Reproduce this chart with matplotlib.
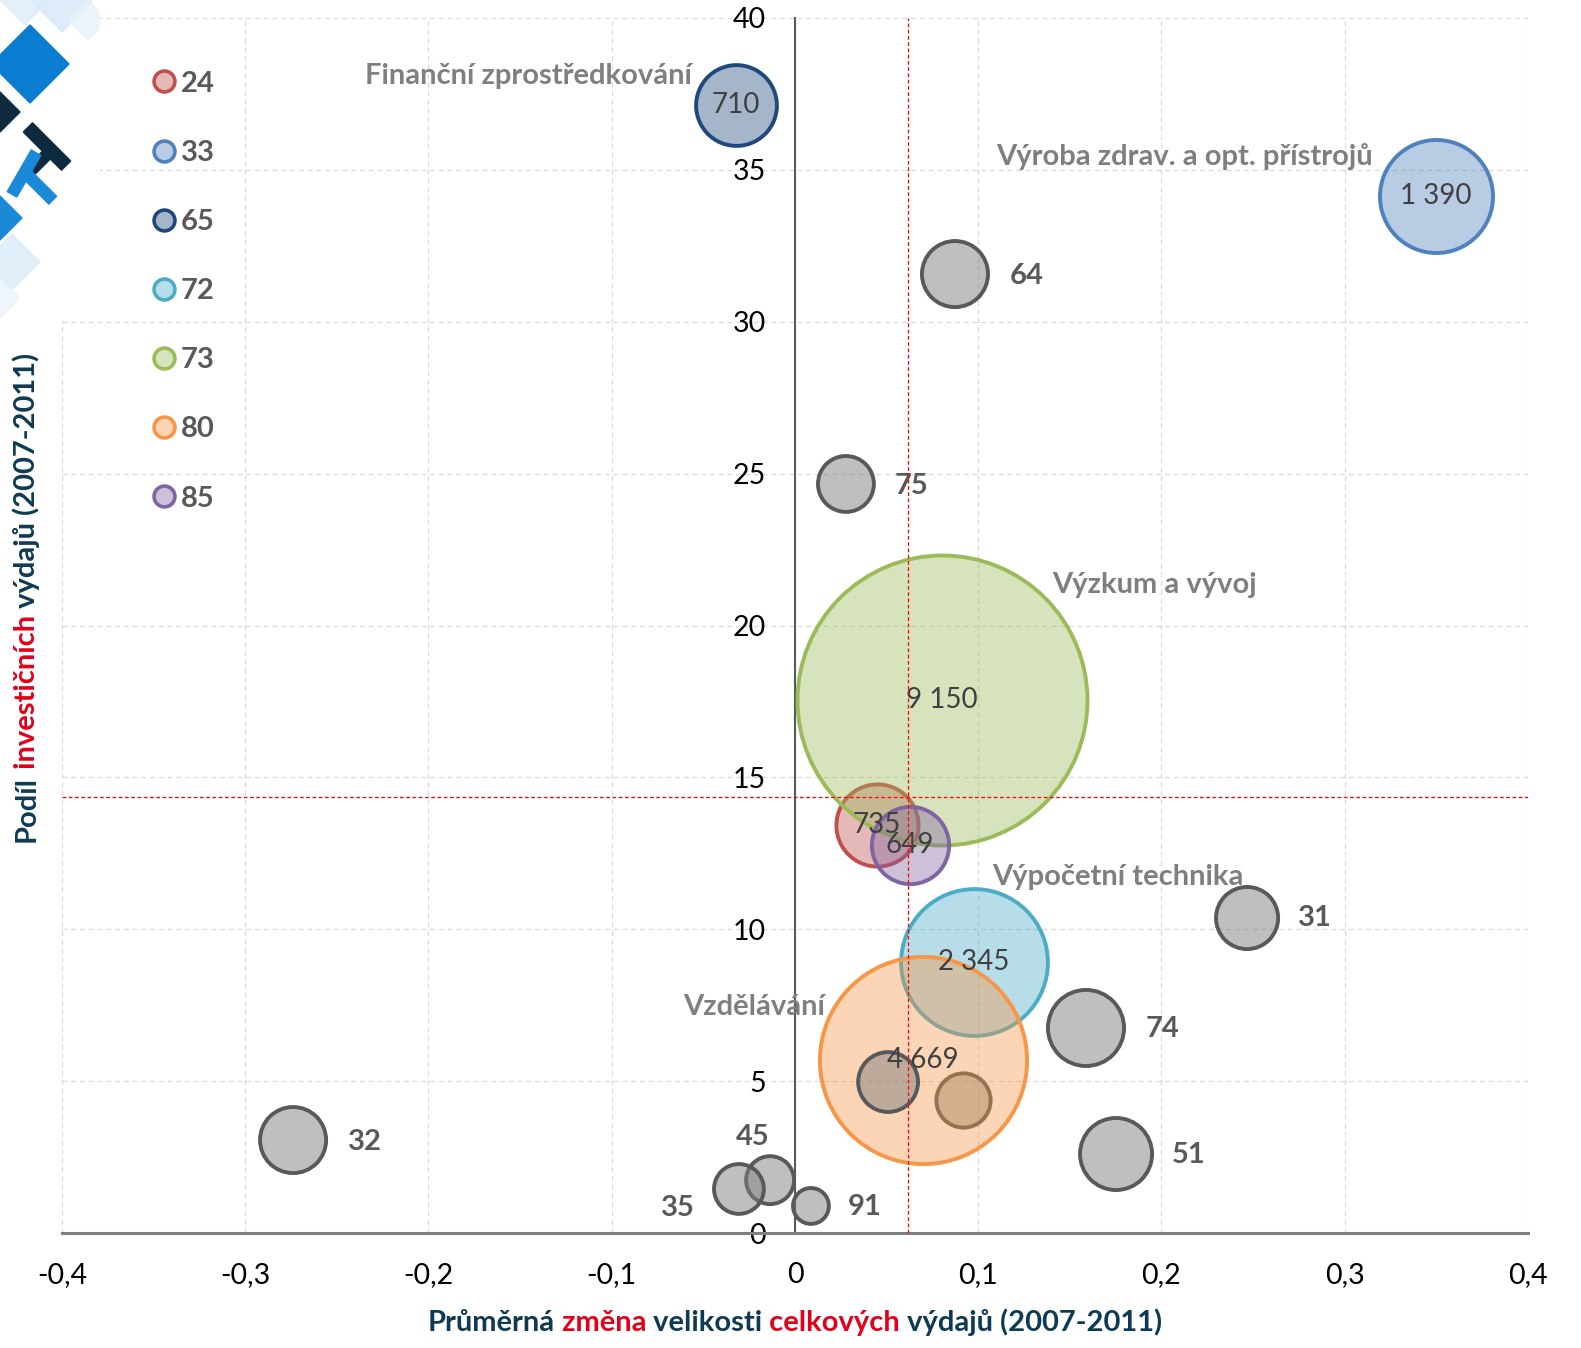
import numpy as np
import matplotlib
matplotlib.use("Agg")
import matplotlib.pyplot as plt
from matplotlib.lines import Line2D
from matplotlib.patches import RegularPolygon, Rectangle
from matplotlib.colors import to_rgba

plt.rcParams["font.family"] = ["Lato", "DejaVu Sans"]

W, H = 1581, 1348

# colored sectors: average change of total spend (x), share of investment spend in % (y), bubble size
col_codes = ["24", "73", "85", "72", "80", "33", "65"]
col_x = [0.0447, 0.0802, 0.0628, 0.0977, 0.0698, 0.3498, -0.0322]
col_y = [13.43, 17.55, 12.77, 8.92, 5.70, 34.14, 37.14]
col_size = [735, 9150, 649, 2345, 4669, 1390, 710]
col_labels = ["735", "9 150", "649", "2 345", "4 669", "1 390", "710"]
col_edge = ["#C0504D", "#9BBB59", "#8064A2", "#4BACC6", "#F79646", "#4F81BD", "#1F497D"]

# sector names
names = {"65": "Finanční zprostředkování", "33": "Výroba zdrav. a opt. přístrojů",
         "73": "Výzkum a vývoj", "72": "Výpočetní technika", "80": "Vzdělávání"}
# name offsets (px from bubble centre) and alignment
name_off = {"65": (-44, 29, "right"), "33": (-63, 39, "right"), "73": (110, 115, "left"),
            "72": (18, 85, "left"), "80": (-98, 53, "right")}

# other (grey) sectors
gray_codes = ["64", "75", "31", "74", "51", "32", "45", "35", "91", "", ""]
gray_x = [0.0873, 0.0278, 0.2467, 0.1588, 0.1752, -0.2739, -0.0136, -0.0306, 0.0087, 0.0508, 0.0918]
gray_y = [31.57, 24.66, 10.37, 6.75, 2.60, 3.06, 1.74, 1.45, 0.89, 4.97, 4.39]
gray_size = [475, 340, 420, 630, 565, 475, 250, 270, 140, 390, 320]
gray_top = [True] * 9 + [True, False]
gray_off = [(72, -2), (66, -2), (68, 0), (76, -1), (73, -1), (72, -2), (-17, 43), (-61, -19), (54, -1)]

# averages (red dashed lines)
mean_x = 0.0617
mean_y = 14.35

legend_codes = ["24", "33", "65", "72", "73", "80", "85"]

fig = plt.figure(figsize=(W / 100, H / 100), dpi=100)
fig.patch.set_facecolor("white")
ax = fig.add_axes([62 / W, 1 - 1233 / H, (1528 - 62) / W, (1233 - 18) / H])

ax.set_xlim(-0.4, 0.4)
ax.set_ylim(0, 40)
ax.set_xticks(np.arange(-0.4, 0.41, 0.1))
ax.set_xticklabels(["-0,4", "-0,3", "-0,2", "-0,1", "0", "0,1", "0,2", "0,3", "0,4"])
ax.set_yticks(np.arange(0, 41, 5))
ax.tick_params(length=0, labelsize=20.5, colors="black")
ax.tick_params(axis="y", pad=21)
ax.tick_params(axis="x", pad=21)
ax.grid(True, color="#D9D9D9", linestyle=(0, (4, 3)), linewidth=0.9)
ax.set_axisbelow(True)
for s in ["top", "right"]:
    ax.spines[s].set_visible(False)
ax.spines["left"].set_position(("data", 0))
ax.spines["left"].set_color("#595959")
ax.spines["left"].set_linewidth(1.5)
ax.spines["bottom"].set_color("#7F7F7F")
ax.spines["bottom"].set_linewidth(2.2)

# bubble area proportional to size; 9150 -> radius 145 px
k = (1.44 * 145) ** 2 / 9150
gx, gy, gs = np.array(gray_x), np.array(gray_y), np.array(gray_size)
top = np.array(gray_top)
gface = to_rgba("#808080", 0.5)
ax.scatter(gx[~top], gy[~top], s=gs[~top] * k, facecolor=gface, edgecolor="#595959",
           linewidth=2.8, zorder=2)
for i in range(len(col_codes)):
    ax.scatter([col_x[i]], [col_y[i]], s=col_size[i] * k, facecolor=to_rgba(col_edge[i], 0.4),
               edgecolor=col_edge[i], linewidth=2.8, zorder=3 + i * 0.1)
ax.scatter(gx[top], gy[top], s=gs[top] * k, facecolor=gface, edgecolor="#595959",
           linewidth=2.8, zorder=4)

for i, c in enumerate(col_codes):
    ax.text(col_x[i], col_y[i], col_labels[i], ha="center", va="center", fontsize=20,
            color="#404040", zorder=6)
    if c in names:
        dx, dy, ha = name_off[c]
        ax.annotate(names[c], (col_x[i], col_y[i]), xytext=(dx * 0.72, dy * 0.72),
                    textcoords="offset points", ha=ha, va="center", fontsize=21,
                    fontweight="bold", color="#7F7F7F", zorder=6)
for i, c in enumerate(gray_codes):
    if c:
        dx, dy = gray_off[i]
        ax.annotate(c, (gray_x[i], gray_y[i]), xytext=(dx * 0.72, dy * 0.72),
                    textcoords="offset points", ha="center", va="center", fontsize=21,
                    fontweight="bold", color="#595959", zorder=6)

ax.axvline(mean_x, color="#FF0000", linestyle=(0, (3, 2)), linewidth=0.9, zorder=7)
ax.axhline(mean_y, color="#FF0000", linestyle=(0, (3, 2)), linewidth=0.9, zorder=7)

# legend
handles = [Line2D([], [], linestyle="none", marker="o", markersize=15,
                  markerfacecolor=to_rgba(col_edge[col_codes.index(c)], 0.4),
                  markeredgecolor=col_edge[col_codes.index(c)], markeredgewidth=2.6, label=c)
           for c in legend_codes]
leg = ax.legend(handles=handles, loc="upper left", bbox_to_anchor=(133 / W, 1 - 56 / H),
                bbox_transform=fig.transFigure, frameon=False, fontsize=21,
                labelspacing=1.48, handletextpad=0.05, handlelength=1.1, borderpad=0)
for t in leg.get_texts():
    t.set_fontweight("bold")
    t.set_color("#595959")

# axis titles with coloured words
NAVY, RED = "#0E3B53", "#E2001A"
renderer = fig.canvas.get_renderer()


def coloured(parts, px, py, rotation=0):
    texts = [fig.text(0, 0, s, color=c, fontsize=21, fontweight="bold", va="baseline")
             for s, c in parts]
    widths = [t.get_window_extent(renderer).width for t in texts]
    if rotation == 0:
        pos = px - sum(widths) / 2
        for t, w in zip(texts, widths):
            t.set_position((pos / W, 1 - py / H))
            pos += w
    else:
        pos = (H - py) - sum(widths) / 2
        for t, w in zip(texts, widths):
            t.set_rotation(90)
            t.set_rotation_mode("anchor")
            t.set_position((px / W, pos / H))
            pos += w


coloured([("Průměrná", NAVY), (" změna", RED), (" velikosti", NAVY), (" celkových", RED),
          (" výdajů (2007-2011)", NAVY)], 795, 1331)
coloured([("Podíl", NAVY), (" investičních", RED), (" výdajů (2007-2011)", NAVY)], 35, 597,
         rotation=90)

# logo fragment in the top-left corner
lax = fig.add_axes([0, 1 - 320 / H, 100 / W, 320 / H])
lax.set_xlim(0, 100)
lax.set_ylim(320, 0)
lax.axis("off")
lax.add_patch(Rectangle((0, 0), 100, 320, color="white"))
for (cx, cy, r, col, a) in [(62, 2, 30, "#CFE5F6", 0.7), (25, 0, 25, "#DCEBF8", 0.8),
                            (88, 20, 20, "#E8F2FA", 0.8),
                            (30, 64, 39, "#0B7DD0", 1), (0, 112, 20, "#0E2A3E", 1),
                            (0, 218, 22, "#1A8AD8", 1), (12, 262, 28, "#D4E8F8", 0.7),
                            (0, 298, 20, "#EAF3FB", 0.8)]:
    lax.add_patch(RegularPolygon((cx, cy), 4, radius=r, orientation=0, color=col, alpha=a))
lax.add_patch(Rectangle((20, 140), 54, 13, angle=45, rotation_point="center", color="#0E2A3E"))
lax.add_patch(Rectangle((34, 150), 11, 24, angle=45, rotation_point="center", color="#0E2A3E"))
lax.add_patch(Rectangle((0, 168), 48, 11, angle=-60, rotation_point="center", color="#1A8AD8"))
lax.add_patch(Rectangle((22, 182), 36, 11, angle=45, rotation_point="center", color="#1A8AD8"))

fig.savefig("out.png", dpi=100, facecolor="white")
